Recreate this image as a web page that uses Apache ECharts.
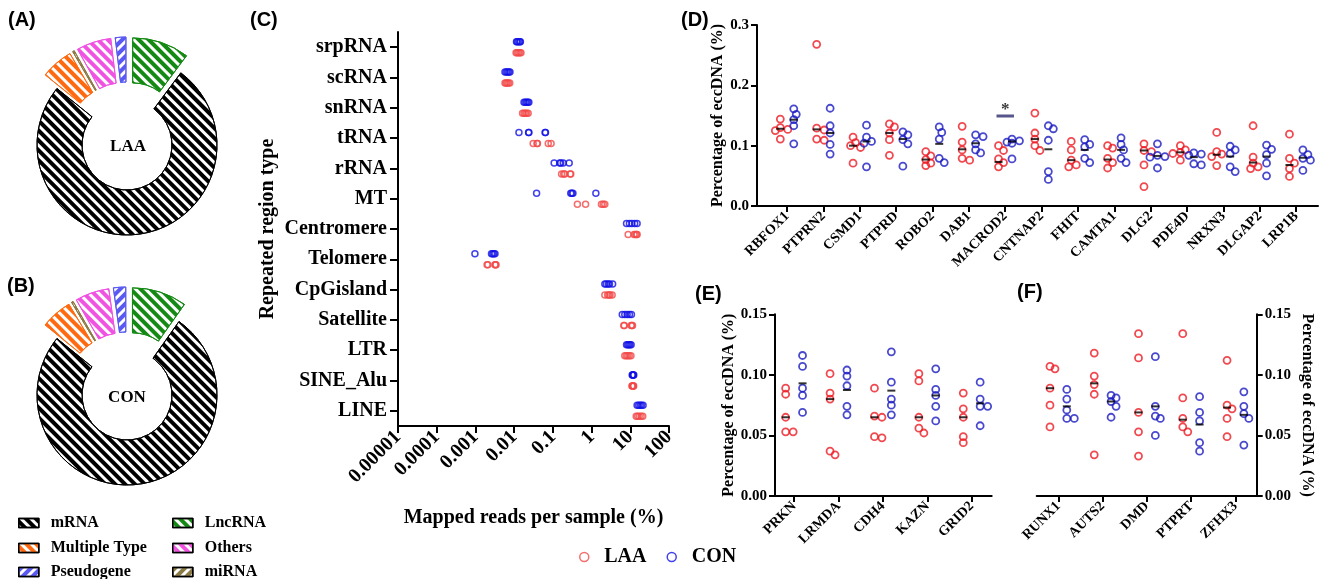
<!DOCTYPE html>
<html>
<head>
<meta charset="utf-8">
<script src="https://cdn.jsdelivr.net/npm/echarts@6/dist/echarts.min.js"></script>
<style>
html, body { margin: 0; padding: 0; background: #fff; }
#chart { width: 1323px; height: 579px; }
</style>
</head>
<body>
<div id="chart"></div>
<script>
const SERIF = "'Liberation Serif', 'Times New Roman', serif";
const SANS = "'Liberation Sans', Arial, sans-serif";

// ---- (A)/(B) genomic element composition of eccDNA (%), clockwise from 12 o'clock
const elementTypes = ['LncRNA', 'mRNA', 'Multiple Type', 'miRNA', 'Others', 'Pseudogene'];
const laaShares = [10.2, 75.6, 5.8, 0.3, 6.2, 1.9];
const conShares = [9.8, 76.0, 5.6, 0.3, 6.1, 2.2];
// legend layout: two columns of three entries
const legendColumns = [['mRNA', 'Multiple Type', 'Pseudogene'], ['LncRNA', 'Others', 'miRNA']];

// ---- (C) mapped reads per sample (%) in repeated regions, 5 samples per group
const repeatTypes = ['srpRNA', 'scRNA', 'snRNA', 'tRNA', 'rRNA', 'MT', 'Centromere',
  'Telomere', 'CpGisland', 'Satellite', 'LTR', 'SINE_Alu', 'LINE'];
const repeatLAA = [
  [0.0112, 0.012, 0.013, 0.014, 0.015],
  [0.0058, 0.0062, 0.0066, 0.0071, 0.0077],
  [0.0165, 0.018, 0.0195, 0.021, 0.023],
  [0.031, 0.039, 0.040, 0.076, 0.090],
  [0.168, 0.19, 0.204, 0.28, 0.29],
  [0.43, 0.70, 1.8, 2.0, 2.2],
  [8.8, 12.5, 13.5, 14.5, 15.0],
  [0.0020, 0.0021, 0.0032, 0.0033, 0.0034],
  [2.2, 2.6, 2.8, 3.0, 3.4],
  [6.8, 7.0, 10.5, 11.0, 11.4],
  [7.2, 7.9, 8.6, 9.4, 10.4],
  [11.0, 11.4, 11.7, 12.0, 12.2],
  [14.2, 15.5, 17.0, 19.0, 21.0]
];
const repeatCON = [
  [0.0115, 0.012, 0.013, 0.014, 0.0145],
  [0.0058, 0.0063, 0.0068, 0.0073, 0.0078],
  [0.018, 0.0195, 0.021, 0.0225, 0.024],
  [0.0133, 0.0236, 0.024, 0.063, 0.0645],
  [0.108, 0.15, 0.16, 0.185, 0.264],
  [0.038, 0.29, 0.31, 0.33, 1.29],
  [8.0, 9.5, 11.0, 13.0, 15.0],
  [0.00097, 0.0026, 0.0028, 0.0030, 0.0032],
  [2.2, 2.4, 2.7, 2.9, 3.5],
  [6.2, 7.2, 8.3, 9.5, 10.7],
  [8.0, 8.6, 9.2, 9.8, 10.5],
  [11.2, 11.5, 11.8, 12.0, 12.3],
  [15.0, 16.5, 18.0, 19.5, 21.4]
];
const readTickLabels = ['0.00001', '0.0001', '0.001', '0.01', '0.1', '1', '10', '100'];

// ---- (D) percentage of eccDNA (%) on the top genes
const genesD = ['RBFOX1', 'PTPRN2', 'CSMD1', 'PTPRD', 'ROBO2', 'DAB1', 'MACROD2', 'CNTNAP2',
  'FHIT', 'CAMTA1', 'DLG2', 'PDE4D', 'NRXN3', 'DLGAP2', 'LRP1B'];
const laaD = [
  [0.144, 0.130, 0.127, 0.125, 0.111],
  [0.268, 0.129, 0.126, 0.111, 0.109],
  [0.114, 0.105, 0.100, 0.097, 0.071],
  [0.136, 0.131, 0.121, 0.110, 0.084],
  [0.090, 0.083, 0.077, 0.071, 0.067],
  [0.132, 0.106, 0.093, 0.079, 0.076],
  [0.100, 0.092, 0.078, 0.072, 0.065],
  [0.154, 0.121, 0.111, 0.100, 0.092],
  [0.107, 0.093, 0.076, 0.068, 0.065],
  [0.100, 0.096, 0.079, 0.072, 0.063],
  [0.103, 0.092, 0.090, 0.068, 0.032],
  [0.100, 0.093, 0.089, 0.087, 0.076],
  [0.122, 0.090, 0.086, 0.082, 0.067],
  [0.133, 0.081, 0.071, 0.065, 0.062],
  [0.119, 0.079, 0.071, 0.062, 0.049]
];
const conD = [
  [0.161, 0.152, 0.143, 0.133, 0.103],
  [0.162, 0.133, 0.121, 0.102, 0.086],
  [0.134, 0.114, 0.107, 0.104, 0.065],
  [0.123, 0.118, 0.110, 0.103, 0.066],
  [0.131, 0.122, 0.111, 0.079, 0.072],
  [0.118, 0.115, 0.103, 0.093, 0.088],
  [0.111, 0.108, 0.106, 0.104, 0.078],
  [0.133, 0.128, 0.109, 0.057, 0.044],
  [0.110, 0.102, 0.098, 0.079, 0.072],
  [0.113, 0.102, 0.093, 0.079, 0.072],
  [0.103, 0.084, 0.082, 0.081, 0.063],
  [0.088, 0.086, 0.084, 0.070, 0.068],
  [0.099, 0.093, 0.087, 0.065, 0.057],
  [0.101, 0.094, 0.085, 0.071, 0.050],
  [0.093, 0.085, 0.079, 0.076, 0.059]
];
const laaDLine = [0.128, 0.127, 0.100, 0.121, 0.077, 0.094, 0.073, 0.111, 0.076, 0.077, 0.092, 0.089, 0.085, 0.072, 0.068];
const conDLine = [0.143, 0.121, 0.107, 0.111, 0.103, 0.104, 0.107, 0.094, 0.093, 0.093, 0.083, 0.081, 0.082, 0.082, 0.080];
const sigGeneD = 'MACROD2';
const sigLevelD = 0.149;
const sigMark = '*';

// ---- (E) genes with higher eccDNA load in CON
const genesE = ['PRKN', 'LRMDA', 'CDH4', 'KAZN', 'GRID2'];
const laaE = [
  [0.089, 0.084, 0.065, 0.053, 0.053],
  [0.101, 0.085, 0.080, 0.037, 0.034],
  [0.089, 0.066, 0.065, 0.049, 0.048],
  [0.101, 0.095, 0.065, 0.056, 0.052],
  [0.085, 0.072, 0.065, 0.049, 0.044]
];
const conE = [
  [0.116, 0.107, 0.089, 0.083, 0.069],
  [0.104, 0.099, 0.091, 0.074, 0.067],
  [0.119, 0.094, 0.080, 0.075, 0.067],
  [0.105, 0.088, 0.083, 0.074, 0.062],
  [0.094, 0.080, 0.074, 0.074, 0.058]
];
const laaELine = [0.065, 0.080, 0.065, 0.065, 0.065];
const conELine = [0.093, 0.0875, 0.087, 0.083, 0.0765];

// ---- (F) genes with higher eccDNA load in LAA
const genesF = ['RUNX1', 'AUTS2', 'DMD', 'PTPRT', 'ZFHX3'];
const laaF = [
  [0.107, 0.105, 0.089, 0.075, 0.057],
  [0.118, 0.099, 0.092, 0.084, 0.034],
  [0.134, 0.114, 0.069, 0.053, 0.033],
  [0.134, 0.081, 0.064, 0.057, 0.053],
  [0.112, 0.075, 0.072, 0.064, 0.049]
];
const conF = [
  [0.088, 0.080, 0.071, 0.064, 0.064],
  [0.083, 0.081, 0.078, 0.074, 0.065],
  [0.115, 0.074, 0.066, 0.064, 0.050],
  [0.082, 0.069, 0.062, 0.044, 0.037],
  [0.086, 0.074, 0.068, 0.064, 0.042]
];
const laaFLine = [0.089, 0.093, 0.069, 0.063, 0.073];
const conFLine = [0.074, 0.078, 0.074, 0.059, 0.067];

// ------------------------------------------------------------------ styling
const RED_C = '#f24848', BLUE_C = '#1212e6';
const RED = '#ec1c24', BLUE = '#1c1cc0';
const pieColor = {
  'mRNA': '#000000', 'Multiple Type': '#ff6a10', 'Pseudogene': '#5a5af2',
  'LncRNA': '#148a14', 'Others': '#f052e2', 'miRNA': '#8c7a44'
};
const stripeTilt = {
  'mRNA': 1, 'Multiple Type': 1, 'Others': 1, 'Pseudogene': -1, 'LncRNA': 1, 'miRNA': -1
};
const boldSerif = (size) => ({ fontFamily: SERIF, fontWeight: 'bold', fontSize: size, color: '#000' });

function stripeStyle(name) {
  const c = pieColor[name];
  return {
    color: '#ffffff',
    borderColor: c,
    borderWidth: 1,
    decal: {
      symbol: 'rect', symbolSize: 1,
      dashArrayX: [1, 0], dashArrayY: [4, 3],
      rotation: stripeTilt[name] * Math.PI / 4,
      color: c
    }
  };
}

function pieSeries(shares, center) {
  return {
    type: 'pie',
    center: center,
    radius: [45, 90],
    startAngle: 90,
    clockwise: true,
    selectedMode: 'multiple',
    selectedOffset: 18,
    avoidLabelOverlap: false,
    label: { show: false },
    labelLine: { show: false },
    emphasis: { disabled: true },
    silent: true,
    data: elementTypes.map((name, i) => ({
      name: name,
      value: shares[i],
      selected: name !== 'mRNA',
      itemStyle: stripeStyle(name),
      select: { itemStyle: stripeStyle(name) }
    }))
  };
}

// Column-scatter spreading: nudge points sideways (in px) when circles would collide.
function swarm(values, pxPerUnit, minDist, step) {
  const order = values.map((v, i) => i).sort((a, b) => values[b] - values[a]);
  const placed = [];
  const off = values.map(() => 0);
  const cands = [0, step, -step, 2 * step, -2 * step, 3 * step, -3 * step];
  order.forEach(i => {
    const y = values[i] * pxPerUnit;
    let chosen = 0;
    for (const dx of cands) {
      if (placed.every(p => Math.hypot(p.dx - dx, p.y - y) >= minDist)) { chosen = dx; break; }
    }
    off[i] = chosen;
    placed.push({ dx: chosen, y: y });
  });
  return off;
}

function dotSeries(name, groups, shift, axisIdx, pxPerUnit, color) {
  const data = [];
  groups.forEach((vals, gi) => {
    const off = swarm(vals, pxPerUnit, 5.5, 2.5);
    vals.forEach((v, k) => data.push({ value: [gi + shift, v], symbolOffset: [off[k], 0] }));
  });
  return {
    type: 'scatter', name: name, xAxisIndex: axisIdx, yAxisIndex: axisIdx,
    symbol: 'circle', symbolSize: 7,
    itemStyle: { color: 'rgba(0,0,0,0)', borderColor: color, borderWidth: 1.8 },
    silent: true, data: data
  };
}

function centerSeries(lines, shift, axisIdx) {
  return {
    type: 'scatter', xAxisIndex: axisIdx, yAxisIndex: axisIdx,
    symbol: 'rect', symbolSize: [8, 2], z: 5, silent: true,
    itemStyle: { color: '#000' },
    data: lines.map((v, gi) => [gi + shift, v])
  };
}

function geneXAxis(gridIndex, genes, min, max) {
  const idx = genes.map((g, i) => i);
  return {
    gridIndex: gridIndex, type: 'value', min: min, max: max,
    axisLine: { show: true, onZero: false, lineStyle: { color: '#000', width: 2 } },
    axisTick: { show: true, length: 6, lineStyle: { color: '#000', width: 2 }, customValues: idx },
    axisLabel: Object.assign({ customValues: idx, rotate: 45, margin: 8,
      formatter: v => genes[Math.round(v)] || '' }, boldSerif(14)),
    splitLine: { show: false }
  };
}

function pctYAxis(gridIndex, max, interval, digits, position, nameGap) {
  return {
    gridIndex: gridIndex, type: 'value', min: 0, max: max, interval: interval, position: position,
    name: 'Percentage of eccDNA (%)', nameLocation: 'middle', nameGap: nameGap,
    nameRotate: position === 'right' ? -90 : 90,
    nameTextStyle: boldSerif(16),
    axisLine: { show: true, onZero: false, lineStyle: { color: '#000', width: 2 } },
    axisTick: { show: true, length: 6, lineStyle: { color: '#000', width: 2 } },
    axisLabel: Object.assign({ margin: 8, formatter: v => v.toFixed(digits) }, boldSerif(15)),
    splitLine: { show: false }
  };
}

// one legend entry per component so the two columns line up exactly
const LEGEND_COL_X = [18, 172];
const LEGEND_ROW_Y = [523, 548, 572];
function elementLegends() {
  const out = [];
  legendColumns.forEach((col, ci) => col.forEach((name, ri) => out.push({
    data: [name], left: LEGEND_COL_X[ci], top: LEGEND_ROW_Y[ri] - 8, padding: 0,
    icon: 'rect', itemWidth: 20, itemHeight: 9, selectedMode: false,
    itemStyle: { borderColor: '#000', borderWidth: 1.5 },
    textStyle: Object.assign({ lineHeight: 16, padding: [0, 0, 0, 7] }, boldSerif(16))
  })));
  return out;
}

// ------------------------------------------------------------------ layout
const D_SHIFT = 0.185, EF_SHIFT = 0.19;
const D_PX = 181 / 0.3, EF_PX = 181.7 / 0.15;
const sigIdx = genesD.indexOf(sigGeneD);

const option = {
  animation: false,
  backgroundColor: '#ffffff',
  title: [
    { text: '(A)', left: 8, top: 10 },
    { text: '(B)', left: 7, top: 276 },
    { text: '(C)', left: 250, top: 10 },
    { text: '(D)', left: 681, top: 10 },
    { text: '(E)', left: 695, top: 284 },
    { text: '(F)', left: 1017, top: 282 }
  ].map(t => Object.assign({ padding: 0,
    textStyle: { fontFamily: SANS, fontWeight: 'bold', fontSize: 20, color: '#000' } }, t)).concat([
    { text: 'LAA', left: 128, top: 147, textAlign: 'center', textVerticalAlign: 'middle', padding: 0, textStyle: boldSerif(17) },
    { text: 'CON', left: 127, top: 398, textAlign: 'center', textVerticalAlign: 'middle', padding: 0, textStyle: boldSerif(17) }
  ]),
  legend: [
    {
      data: ['LAA', 'CON'], left: 574, top: 542, itemWidth: 30, itemHeight: 9, itemGap: 20,
      itemStyle: { borderWidth: 1.5 }, textStyle: boldSerif(20), selectedMode: false
    }
  ].concat(elementLegends()),
  grid: [
    { left: 398, top: 32, width: 271, height: 394, outerBoundsMode: 'none' },
    { left: 757, top: 25, width: 561, height: 181, outerBoundsMode: 'none' },
    { left: 775, top: 314.3, width: 216.7, height: 181.7, outerBoundsMode: 'none' },
    { left: 1036.7, top: 314.3, width: 220, height: 181.7, outerBoundsMode: 'none' }
  ],
  xAxis: [
    {
      gridIndex: 0, type: 'log', logBase: 10, min: 0.00001, max: 100,
      name: 'Mapped reads per sample (%)', nameLocation: 'middle', nameGap: 82,
      nameTextStyle: boldSerif(20),
      axisLine: { show: true, onZero: false, lineStyle: { color: '#000', width: 2 } },
      axisTick: { show: true, length: 7, lineStyle: { color: '#000', width: 2 } },
      axisLabel: Object.assign({ rotate: 45, margin: 8,
        formatter: v => readTickLabels[Math.round(Math.log10(v)) + 5] || '' }, boldSerif(20)),
      splitLine: { show: false }, minorTick: { show: false }
    },
    geneXAxis(1, genesD, -0.826, 14.6),
    geneXAxis(2, genesE, -0.43, 4.45),
    geneXAxis(3, genesF, -0.49, 4.48)
  ],
  yAxis: [
    {
      gridIndex: 0, type: 'category', data: repeatTypes, inverse: true,
      name: 'Repeated region type', nameLocation: 'middle', nameGap: 120, nameRotate: 90,
      nameTextStyle: boldSerif(20),
      axisLine: { show: true, lineStyle: { color: '#000', width: 2 } },
      axisTick: { show: true, alignWithLabel: true, length: 8, lineStyle: { color: '#000', width: 2 } },
      axisLabel: Object.assign({ margin: 11 }, boldSerif(20)),
      splitLine: { show: false }
    },
    pctYAxis(1, 0.3, 0.1, 1, 'left', 27),
    pctYAxis(2, 0.15, 0.05, 2, 'left', 37),
    pctYAxis(3, 0.15, 0.05, 2, 'right', 42)
  ],
  series: [
    {
      type: 'scatter', name: 'LAA', xAxisIndex: 0, yAxisIndex: 0,
      symbol: 'circle', symbolSize: 6, symbolOffset: [0, 5.5], silent: true,
      itemStyle: { color: 'rgba(0,0,0,0)', borderColor: RED_C, borderWidth: 1.5 },
      data: repeatTypes.flatMap((t, i) => repeatLAA[i].map(v => [v, t]))
    },
    {
      type: 'scatter', name: 'CON', xAxisIndex: 0, yAxisIndex: 0,
      symbol: 'circle', symbolSize: 6, symbolOffset: [0, -5.5], silent: true,
      itemStyle: { color: 'rgba(0,0,0,0)', borderColor: BLUE_C, borderWidth: 1.5 },
      data: repeatTypes.flatMap((t, i) => repeatCON[i].map(v => [v, t]))
    },
    pieSeries(laaShares, [127, 145]),
    pieSeries(conShares, [127, 395]),

    dotSeries('LAA', laaD, -D_SHIFT, 1, D_PX, RED),
    dotSeries('CON', conD, D_SHIFT, 1, D_PX, BLUE),
    centerSeries(laaDLine, -D_SHIFT, 1),
    centerSeries(conDLine, D_SHIFT, 1),
    {
      type: 'line', xAxisIndex: 1, yAxisIndex: 1, symbol: 'none', silent: true,
      lineStyle: { color: '#56568c', width: 3 },
      data: [[sigIdx - 0.24, sigLevelD], [sigIdx + 0.24, sigLevelD]]
    },
    {
      type: 'scatter', xAxisIndex: 1, yAxisIndex: 1, symbolSize: 0, silent: true,
      label: Object.assign({ show: true, position: 'top', distance: -2, formatter: sigMark }, boldSerif(17)),
      data: [[sigIdx, sigLevelD]]
    },

    dotSeries('LAA', laaE, -EF_SHIFT, 2, EF_PX, RED),
    dotSeries('CON', conE, EF_SHIFT, 2, EF_PX, BLUE),
    centerSeries(laaELine, -EF_SHIFT, 2),
    centerSeries(conELine, EF_SHIFT, 2),

    dotSeries('LAA', laaF, -EF_SHIFT, 3, EF_PX, RED),
    dotSeries('CON', conF, EF_SHIFT, 3, EF_PX, BLUE),
    centerSeries(laaFLine, -EF_SHIFT, 3),
    centerSeries(conFLine, EF_SHIFT, 3)
  ]
};

const chart = echarts.init(document.getElementById('chart'), null, { renderer: 'canvas' });
chart.setOption(option);
</script>
</body>
</html>
